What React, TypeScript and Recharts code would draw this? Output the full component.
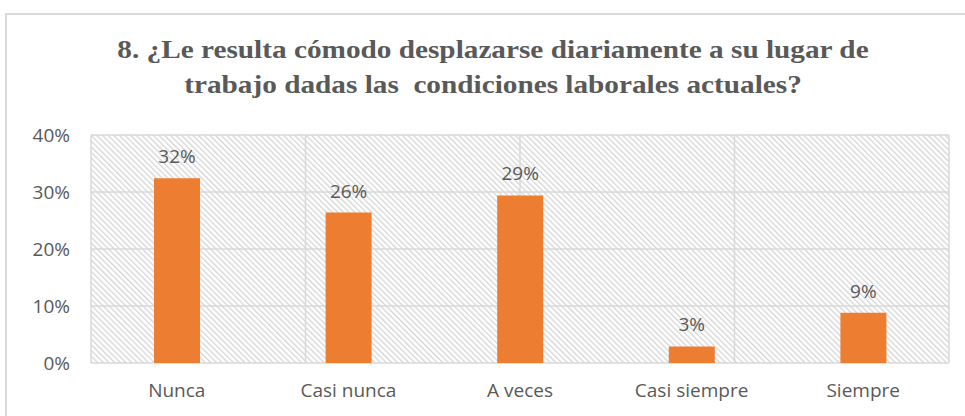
import React from "react";
import { BarChart, Bar, XAxis, YAxis, CartesianGrid, LabelList } from "recharts";

const categories = ["Nunca", "Casi nunca", "A veces", "Casi siempre", "Siempre"];
const values = [0.324, 0.264, 0.294, 0.029, 0.088];
const yTicks = [0, 0.1, 0.2, 0.3, 0.4];
const titleLines = [
  "8. ¿Le resulta cómodo desplazarse diariamente a su lugar de",
  "trabajo dadas las  condiciones laborales actuales?",
];

const data = categories.map((c, i) => ({ name: c, value: values[i] }));
const pct = (v: number) => `${Math.round(v * 100)}%`;
const gray = "#595959";
const tickFont = "'Open Sans', 'Noto Sans', sans-serif";

export default function App() {
  return (
    <div style={{ position: "absolute", left: 0, top: 0, width: 965, height: 416, background: "#fff", overflow: "hidden" }}>
      <svg width={0} height={0} style={{ position: "absolute" }}>
        <defs>
          <pattern id="hatch" patternUnits="userSpaceOnUse" width={4} height={4} patternTransform="rotate(-45)">
            <rect x={0} y={0} width={4} height={4} fill="#ffffff" />
            <rect x={0} y={0} width={1.3} height={4} fill="#d4d4d4" />
          </pattern>
        </defs>
      </svg>
      <div style={{ position: "absolute", left: 5, top: 13, width: 2, height: 420, background: "#d9d9d9" }} />
      <div style={{ position: "absolute", left: 5, top: 13, width: 980, height: 2, background: "#d9d9d9" }} />
      <div
        style={{
          position: "absolute",
          left: 0,
          top: 32,
          width: 986,
          textAlign: "center",
          fontFamily: "'Liberation Serif', serif",
          fontWeight: "bold",
          fontSize: 25,
          lineHeight: "35px",
          color: gray,
          whiteSpace: "pre",
          transform: "scaleX(1.17)",
          transformOrigin: "493px 0",
        }}
      >
        {titleLines.map((t, i) => (
          <div key={i}>{t}</div>
        ))}
      </div>
      <div style={{ position: "absolute", left: 0, top: 0 }}>
        <BarChart width={965} height={416} data={data} margin={{ top: 135, right: 16, bottom: 13, left: 31 }}>
          <CartesianGrid
            xAxisId="grid"
            stroke="#d9d9d9"
            strokeWidth={1.5}
            fill="url(#hatch)"
            vertical={true}
            horizontal={true}
          />
          <XAxis
            dataKey="name"
            axisLine={false}
            tickLine={false}
            tickMargin={15}
            height={40}
            interval={0}
            tick={{ fill: gray, fontSize: 19, fontFamily: tickFont }}
          />
          <XAxis xAxisId="grid" type="number" domain={[0, 5]} ticks={[0, 1, 2, 3, 4, 5]} hide />
          <YAxis
            domain={[0, 0.4]}
            ticks={yTicks}
            tickFormatter={pct}
            axisLine={false}
            tickLine={false}
            tickMargin={15}
            width={60}
            tick={{ fill: gray, fontSize: 19, fontFamily: tickFont }}
          />
          <Bar dataKey="value" fill="#ed7d31" barSize={46} isAnimationActive={false}>
            <LabelList
              dataKey="value"
              position="top"
              offset={15}
              formatter={(v: number) => pct(v)}
              style={{ fill: gray, fontSize: 19, fontFamily: tickFont }}
            />
          </Bar>
        </BarChart>
      </div>
    </div>
  );
}
